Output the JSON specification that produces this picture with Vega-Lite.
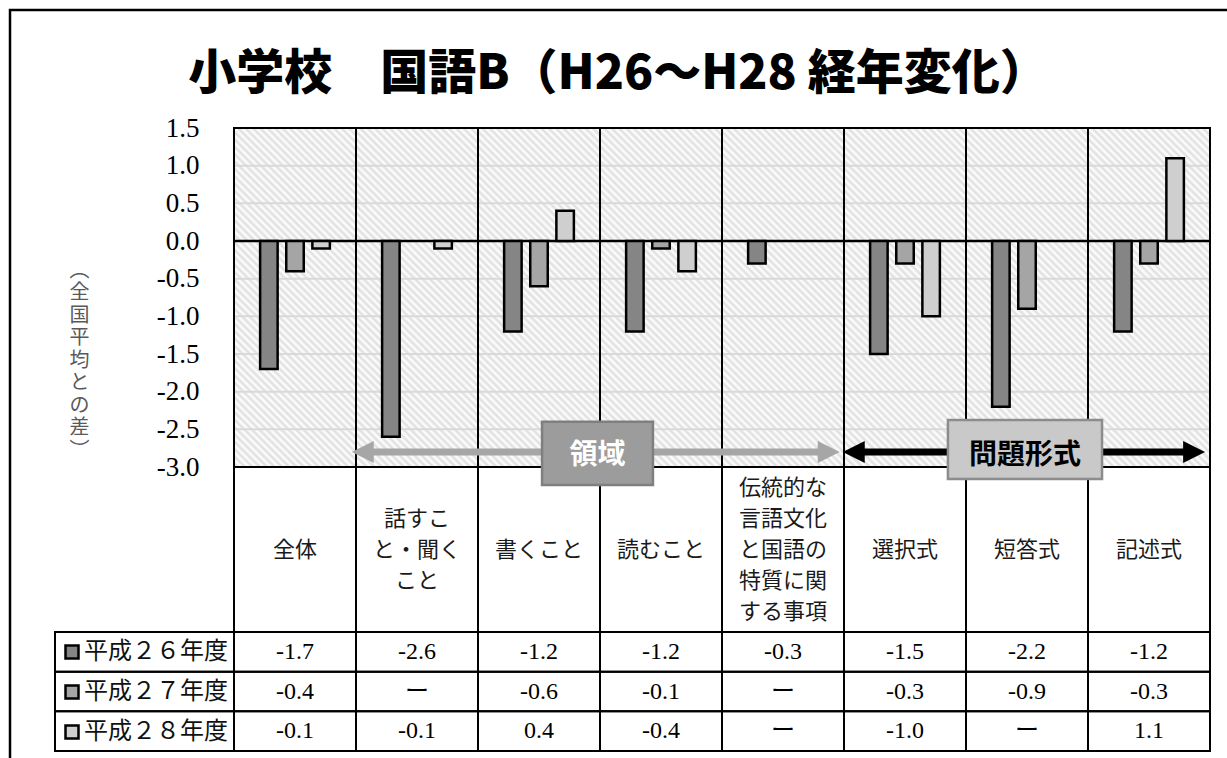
{
  "$schema": "https://vega.github.io/schema/vega-lite/v6.json",
  "width": 1220,
  "height": 752,
  "autosize": {"type": "none"},
  "padding": {"left": 10, "top": 10, "right": -3, "bottom": -4},
  "background": "#ffffff",
  "title": {
    "text": "小学校　国語B（H26～H28 経年変化）",
    "anchor": "middle",
    "frame": "group",
    "offset": -113,
    "baseline": "middle",
    "dx": -2,
    "font": "Noto Sans CJK JP",
    "fontSize": 48,
    "fontWeight": 900,
    "color": "#000000"
  },
  "datasets": {
    "cats": [
      {"cat": "全体", "label": "全体"},
      {"cat": "話すこと・聞くこと", "label": "話すこ\nと・聞く\nこと"},
      {"cat": "書くこと", "label": "書くこと"},
      {"cat": "読むこと", "label": "読むこと"},
      {"cat": "伝統的な言語文化と国語の特質に関する事項", "label": "伝統的な\n言語文化\nと国語の\n特質に関\nする事項"},
      {"cat": "選択式", "label": "選択式"},
      {"cat": "短答式", "label": "短答式"},
      {"cat": "記述式", "label": "記述式"}
    ],
    "scores": [
      {"cat": "全体", "year": "平成２６年度", "v": -1.7},
      {"cat": "全体", "year": "平成２７年度", "v": -0.4},
      {"cat": "全体", "year": "平成２８年度", "v": -0.1},
      {"cat": "話すこと・聞くこと", "year": "平成２６年度", "v": -2.6},
      {"cat": "話すこと・聞くこと", "year": "平成２７年度", "v": null},
      {"cat": "話すこと・聞くこと", "year": "平成２８年度", "v": -0.1},
      {"cat": "書くこと", "year": "平成２６年度", "v": -1.2},
      {"cat": "書くこと", "year": "平成２７年度", "v": -0.6},
      {"cat": "書くこと", "year": "平成２８年度", "v": 0.4},
      {"cat": "読むこと", "year": "平成２６年度", "v": -1.2},
      {"cat": "読むこと", "year": "平成２７年度", "v": -0.1},
      {"cat": "読むこと", "year": "平成２８年度", "v": -0.4},
      {"cat": "伝統的な言語文化と国語の特質に関する事項", "year": "平成２６年度", "v": -0.3},
      {"cat": "伝統的な言語文化と国語の特質に関する事項", "year": "平成２７年度", "v": null},
      {"cat": "伝統的な言語文化と国語の特質に関する事項", "year": "平成２８年度", "v": null},
      {"cat": "選択式", "year": "平成２６年度", "v": -1.5},
      {"cat": "選択式", "year": "平成２７年度", "v": -0.3},
      {"cat": "選択式", "year": "平成２８年度", "v": -1.0},
      {"cat": "短答式", "year": "平成２６年度", "v": -2.2},
      {"cat": "短答式", "year": "平成２７年度", "v": -0.9},
      {"cat": "短答式", "year": "平成２８年度", "v": null},
      {"cat": "記述式", "year": "平成２６年度", "v": -1.2},
      {"cat": "記述式", "year": "平成２７年度", "v": -0.3},
      {"cat": "記述式", "year": "平成２８年度", "v": 1.1}
    ],
    "years": [
      {"year": "平成２６年度"},
      {"year": "平成２７年度"},
      {"year": "平成２８年度"}
    ],
    "grid": [
      {"g": -2.5}, {"g": -2.0}, {"g": -1.5}, {"g": -1.0}, {"g": -0.5}, {"g": 0.5}, {"g": 1.0}
    ],
    "baseline": [{"g": 0}],
    "notes": [
      {"label": "領域", "from": 0.965, "to": 4.965, "y": -2.8, "mid": 2.98, "boxL": 2.525, "boxR": 3.434, "boxT": -2.4, "boxB": -3.24},
      {"label": "問題形式", "from": 4.99, "to": 7.96, "y": -2.8, "mid": 6.484, "boxL": 5.852, "boxR": 7.115, "boxT": -2.376, "boxB": -3.159}
    ]
  },
  "layer": [
    {
      "data": {"name": "cats"},
      "mark": {
        "type": "rect",
        "strokeWidth": 0,
        "fill": {
          "gradient": "linear",
          "x1": 0, "y1": 1, "x2": 0.4333, "y2": -0.204,
          "stops": [
            {"offset": 0, "color": "#fff"}, {"offset": 0.008, "color": "#dedede"},
            {"offset": 0.016, "color": "#fff"}, {"offset": 0.024, "color": "#dedede"},
            {"offset": 0.032, "color": "#fff"}, {"offset": 0.04, "color": "#dedede"},
            {"offset": 0.048, "color": "#fff"}, {"offset": 0.056, "color": "#dedede"},
            {"offset": 0.064, "color": "#fff"}, {"offset": 0.072, "color": "#dedede"},
            {"offset": 0.08, "color": "#fff"}, {"offset": 0.088, "color": "#dedede"},
            {"offset": 0.096, "color": "#fff"}, {"offset": 0.104, "color": "#dedede"},
            {"offset": 0.112, "color": "#fff"}, {"offset": 0.12, "color": "#dedede"},
            {"offset": 0.128, "color": "#fff"}, {"offset": 0.136, "color": "#dedede"},
            {"offset": 0.144, "color": "#fff"}, {"offset": 0.152, "color": "#dedede"},
            {"offset": 0.16, "color": "#fff"}, {"offset": 0.168, "color": "#dedede"},
            {"offset": 0.176, "color": "#fff"}, {"offset": 0.184, "color": "#dedede"},
            {"offset": 0.192, "color": "#fff"}, {"offset": 0.2, "color": "#dedede"},
            {"offset": 0.208, "color": "#fff"}, {"offset": 0.216, "color": "#dedede"},
            {"offset": 0.224, "color": "#fff"}, {"offset": 0.232, "color": "#dedede"},
            {"offset": 0.24, "color": "#fff"}, {"offset": 0.248, "color": "#dedede"},
            {"offset": 0.256, "color": "#fff"}, {"offset": 0.264, "color": "#dedede"},
            {"offset": 0.272, "color": "#fff"}, {"offset": 0.28, "color": "#dedede"},
            {"offset": 0.288, "color": "#fff"}, {"offset": 0.296, "color": "#dedede"},
            {"offset": 0.304, "color": "#fff"}, {"offset": 0.312, "color": "#dedede"},
            {"offset": 0.32, "color": "#fff"}, {"offset": 0.328, "color": "#dedede"},
            {"offset": 0.336, "color": "#fff"}, {"offset": 0.344, "color": "#dedede"},
            {"offset": 0.352, "color": "#fff"}, {"offset": 0.36, "color": "#dedede"},
            {"offset": 0.368, "color": "#fff"}, {"offset": 0.376, "color": "#dedede"},
            {"offset": 0.384, "color": "#fff"}, {"offset": 0.392, "color": "#dedede"},
            {"offset": 0.4, "color": "#fff"}, {"offset": 0.408, "color": "#dedede"},
            {"offset": 0.416, "color": "#fff"}, {"offset": 0.424, "color": "#dedede"},
            {"offset": 0.432, "color": "#fff"}, {"offset": 0.44, "color": "#dedede"},
            {"offset": 0.448, "color": "#fff"}, {"offset": 0.456, "color": "#dedede"},
            {"offset": 0.464, "color": "#fff"}, {"offset": 0.472, "color": "#dedede"},
            {"offset": 0.48, "color": "#fff"}, {"offset": 0.488, "color": "#dedede"},
            {"offset": 0.496, "color": "#fff"}, {"offset": 0.504, "color": "#dedede"},
            {"offset": 0.512, "color": "#fff"}, {"offset": 0.52, "color": "#dedede"},
            {"offset": 0.528, "color": "#fff"}, {"offset": 0.536, "color": "#dedede"},
            {"offset": 0.544, "color": "#fff"}, {"offset": 0.552, "color": "#dedede"},
            {"offset": 0.56, "color": "#fff"}, {"offset": 0.568, "color": "#dedede"},
            {"offset": 0.576, "color": "#fff"}, {"offset": 0.584, "color": "#dedede"},
            {"offset": 0.592, "color": "#fff"}, {"offset": 0.6, "color": "#dedede"},
            {"offset": 0.608, "color": "#fff"}, {"offset": 0.616, "color": "#dedede"},
            {"offset": 0.624, "color": "#fff"}, {"offset": 0.632, "color": "#dedede"},
            {"offset": 0.64, "color": "#fff"}, {"offset": 0.648, "color": "#dedede"},
            {"offset": 0.656, "color": "#fff"}, {"offset": 0.664, "color": "#dedede"},
            {"offset": 0.672, "color": "#fff"}, {"offset": 0.68, "color": "#dedede"},
            {"offset": 0.688, "color": "#fff"}, {"offset": 0.696, "color": "#dedede"},
            {"offset": 0.704, "color": "#fff"}, {"offset": 0.712, "color": "#dedede"},
            {"offset": 0.72, "color": "#fff"}, {"offset": 0.728, "color": "#dedede"},
            {"offset": 0.736, "color": "#fff"}, {"offset": 0.744, "color": "#dedede"},
            {"offset": 0.752, "color": "#fff"}, {"offset": 0.76, "color": "#dedede"},
            {"offset": 0.768, "color": "#fff"}, {"offset": 0.776, "color": "#dedede"},
            {"offset": 0.784, "color": "#fff"}, {"offset": 0.792, "color": "#dedede"},
            {"offset": 0.8, "color": "#fff"}, {"offset": 0.808, "color": "#dedede"},
            {"offset": 0.816, "color": "#fff"}, {"offset": 0.824, "color": "#dedede"},
            {"offset": 0.832, "color": "#fff"}, {"offset": 0.84, "color": "#dedede"},
            {"offset": 0.848, "color": "#fff"}, {"offset": 0.856, "color": "#dedede"},
            {"offset": 0.864, "color": "#fff"}, {"offset": 0.872, "color": "#dedede"},
            {"offset": 0.88, "color": "#fff"}, {"offset": 0.888, "color": "#dedede"},
            {"offset": 0.896, "color": "#fff"}, {"offset": 0.904, "color": "#dedede"},
            {"offset": 0.912, "color": "#fff"}, {"offset": 0.92, "color": "#dedede"},
            {"offset": 0.928, "color": "#fff"}, {"offset": 0.936, "color": "#dedede"},
            {"offset": 0.944, "color": "#fff"}, {"offset": 0.952, "color": "#dedede"},
            {"offset": 0.96, "color": "#fff"}, {"offset": 0.968, "color": "#dedede"},
            {"offset": 0.976, "color": "#fff"}, {"offset": 0.984, "color": "#dedede"},
            {"offset": 0.992, "color": "#fff"}, {"offset": 1, "color": "#dedede"}
          ]
        }
      },
      "encoding": {
        "x": {"field": "cat", "type": "nominal", "axis": null,
              "scale": {"type": "band", "domain": ["全体", "話すこと・聞くこと", "書くこと", "読むこと", "伝統的な言語文化と国語の特質に関する事項", "選択式", "短答式", "記述式"], "range": [224, 1200], "paddingInner": 0, "paddingOuter": 0}},
        "y": {"datum": 1.5, "type": "quantitative", "axis": null,
              "scale": {"domain": [-3, 1.5], "range": [457, 118], "nice": false, "zero": false}},
        "y2": {"datum": -3}
      }
    },
    {
      "data": {"name": "grid"},
      "mark": {"type": "rule", "color": "#d9d9d9", "strokeWidth": 2},
      "encoding": {
        "x": {"datum": 0, "type": "quantitative", "axis": null,
              "scale": {"domain": [0, 8], "range": [224, 1200], "nice": false, "zero": false}},
        "x2": {"datum": 8},
        "y": {"field": "g", "type": "quantitative",
              "scale": {"domain": [-3, 1.5], "range": [457, 118], "nice": false, "zero": false},
              "axis": {
                "orient": "left",
                "values": [-3, -2.5, -2, -1.5, -1, -0.5, 0, 0.5, 1, 1.5],
                "format": ".1f",
                "offset": -200,
                "domain": false,
                "ticks": false,
                "tickSize": 0,
                "grid": false,
                "labelPadding": 11,
                "labelFont": "Liberation Serif",
                "labelFontSize": 27,
                "labelColor": "#000000",
                "labelAlign": "right",
                "labelBaseline": "middle",
                "labelOverlap": false,
                "labelFlush": false,
                "title": ["︵", "全", "国", "平", "均", "と", "の", "差", "︶"],
                "titleAngle": 0,
                "titleX": -131,
                "titleY": 250,
                "titleAlign": "center",
                "titleBaseline": "top",
                "titleFont": "Noto Sans CJK JP",
                "titleFontSize": 20,
                "titleFontWeight": "normal",
                "titleColor": "#595959",
                "titleLineHeight": 22.5
              }}
      }
    },
    {
      "data": {"name": "cats"},
      "mark": {"type": "rect", "filled": false, "color": "#000000", "strokeWidth": 2},
      "encoding": {
        "x": {"field": "cat", "type": "nominal", "axis": null,
              "scale": {"type": "band", "domain": ["全体", "話すこと・聞くこと", "書くこと", "読むこと", "伝統的な言語文化と国語の特質に関する事項", "選択式", "短答式", "記述式"], "range": [224, 1200], "paddingInner": 0, "paddingOuter": 0}},
        "y": {"datum": 1.5, "type": "quantitative", "axis": null,
              "scale": {"domain": [-3, 1.5], "range": [457, 118], "nice": false, "zero": false}},
        "y2": {"datum": -3}
      }
    },
    {
      "data": {"name": "cats"},
      "mark": {"type": "rect", "filled": false, "color": "#000000", "strokeWidth": 2},
      "encoding": {
        "x": {"field": "cat", "type": "nominal", "axis": null,
              "scale": {"type": "band", "domain": ["全体", "話すこと・聞くこと", "書くこと", "読むこと", "伝統的な言語文化と国語の特質に関する事項", "選択式", "短答式", "記述式"], "range": [224, 1200], "paddingInner": 0, "paddingOuter": 0}},
        "y": {"datum": "区分", "type": "nominal", "axis": null,
              "scale": {"type": "band", "domain": ["区分"], "range": [457, 622], "paddingInner": 0, "paddingOuter": 0}}
      }
    },
    {
      "data": {"name": "cats"},
      "transform": [{"filter": "length(split(datum.label, '\\n')) === 1"}],
      "mark": {"type": "text", "font": "Noto Sans CJK JP", "fontSize": 22, "lineHeight": 31, "lineBreak": "\n", "color": "#1a1a1a", "align": "center", "baseline": "middle"},
      "encoding": {
        "x": {"field": "cat", "type": "nominal", "axis": null,
              "scale": {"type": "band", "domain": ["全体", "話すこと・聞くこと", "書くこと", "読むこと", "伝統的な言語文化と国語の特質に関する事項", "選択式", "短答式", "記述式"], "range": [224, 1200], "paddingInner": 0, "paddingOuter": 0}},
        "y": {"datum": "区分", "type": "nominal", "axis": null,
              "scale": {"type": "band", "domain": ["区分"], "range": [457, 622], "paddingInner": 0, "paddingOuter": 0}},
        "text": {"field": "label"}
      }
    },
    {
      "data": {"name": "cats"},
      "transform": [{"filter": "length(split(datum.label, '\\n')) === 3"}],
      "mark": {"type": "text", "font": "Noto Sans CJK JP", "fontSize": 22, "lineHeight": 31, "lineBreak": "\n", "color": "#1a1a1a", "align": "center", "baseline": "middle", "dy": -31},
      "encoding": {
        "x": {"field": "cat", "type": "nominal", "axis": null,
              "scale": {"type": "band", "domain": ["全体", "話すこと・聞くこと", "書くこと", "読むこと", "伝統的な言語文化と国語の特質に関する事項", "選択式", "短答式", "記述式"], "range": [224, 1200], "paddingInner": 0, "paddingOuter": 0}},
        "y": {"datum": "区分", "type": "nominal", "axis": null,
              "scale": {"type": "band", "domain": ["区分"], "range": [457, 622], "paddingInner": 0, "paddingOuter": 0}},
        "text": {"field": "label"}
      }
    },
    {
      "data": {"name": "cats"},
      "transform": [{"filter": "length(split(datum.label, '\\n')) === 5"}],
      "mark": {"type": "text", "font": "Noto Sans CJK JP", "fontSize": 22, "lineHeight": 31, "lineBreak": "\n", "color": "#1a1a1a", "align": "center", "baseline": "middle", "dy": -62},
      "encoding": {
        "x": {"field": "cat", "type": "nominal", "axis": null,
              "scale": {"type": "band", "domain": ["全体", "話すこと・聞くこと", "書くこと", "読むこと", "伝統的な言語文化と国語の特質に関する事項", "選択式", "短答式", "記述式"], "range": [224, 1200], "paddingInner": 0, "paddingOuter": 0}},
        "y": {"datum": "区分", "type": "nominal", "axis": null,
              "scale": {"type": "band", "domain": ["区分"], "range": [457, 622], "paddingInner": 0, "paddingOuter": 0}},
        "text": {"field": "label"}
      }
    },
    {
      "data": {"name": "baseline"},
      "mark": {"type": "rule", "color": "#000000", "strokeWidth": 2.5},
      "encoding": {
        "x": {"datum": 0, "type": "quantitative", "axis": null,
              "scale": {"domain": [0, 8], "range": [224, 1200], "nice": false, "zero": false}},
        "x2": {"datum": 8},
        "y": {"field": "g", "type": "quantitative", "axis": null,
              "scale": {"domain": [-3, 1.5], "range": [457, 118], "nice": false, "zero": false}}
      }
    },
    {
      "data": {"name": "scores"},
      "mark": {"type": "bar", "stroke": "#000000", "strokeWidth": 2.5},
      "encoding": {
        "x": {"field": "cat", "type": "nominal", "axis": null,
              "scale": {"type": "band", "domain": ["全体", "話すこと・聞くこと", "書くこと", "読むこと", "伝統的な言語文化と国語の特質に関する事項", "選択式", "短答式", "記述式"], "range": [224, 1200], "paddingInner": 0, "paddingOuter": 0}},
        "xOffset": {"field": "year", "type": "nominal",
                    "scale": {"domain": ["平成２６年度", "平成２７年度", "平成２８年度"], "paddingInner": 0.33, "paddingOuter": 1.0}},
        "y": {"field": "v", "type": "quantitative", "axis": null, "stack": null,
              "scale": {"domain": [-3, 1.5], "range": [457, 118], "nice": false, "zero": false}},
        "color": {"field": "year", "type": "nominal",
                  "scale": {"domain": ["平成２６年度", "平成２７年度", "平成２８年度"], "range": ["#858585", "#a5a5a5", "#cfcfcf"]},
                  "legend": {
                    "title": null,
                    "orient": "none",
                    "legendX": 50,
                    "legendY": 630,
                    "direction": "vertical",
                    "symbolType": "square",
                    "symbolSize": 169,
                    "symbolStrokeColor": "#000000",
                    "symbolStrokeWidth": 2.5,
                    "symbolOpacity": 1,
                    "labelFont": "Noto Sans CJK JP",
                    "labelFontSize": 24,
                    "labelColor": "#111111",
                    "labelOffset": 0,
                    "labelLimit": 300,
                    "rowPadding": 16,
                    "padding": 0,
                    "offset": 0
                  }}
      }
    },
    {
      "data": {"name": "scores"},
      "mark": {"type": "rect", "filled": false, "color": "#000000", "strokeWidth": 2},
      "encoding": {
        "x": {"field": "cat", "type": "nominal", "axis": null,
              "scale": {"type": "band", "domain": ["全体", "話すこと・聞くこと", "書くこと", "読むこと", "伝統的な言語文化と国語の特質に関する事項", "選択式", "短答式", "記述式"], "range": [224, 1200], "paddingInner": 0, "paddingOuter": 0}},
        "y": {"field": "year", "type": "nominal", "axis": null,
              "scale": {"type": "band", "domain": ["平成２６年度", "平成２７年度", "平成２８年度"], "range": [622, 741], "paddingInner": 0, "paddingOuter": 0}}
      }
    },
    {
      "data": {"name": "scores"},
      "mark": {"type": "text", "font": "Liberation Serif, Noto Sans CJK JP", "fontSize": 24, "color": "#000000", "align": "center", "baseline": "middle"},
      "encoding": {
        "x": {"field": "cat", "type": "nominal", "axis": null,
              "scale": {"type": "band", "domain": ["全体", "話すこと・聞くこと", "書くこと", "読むこと", "伝統的な言語文化と国語の特質に関する事項", "選択式", "短答式", "記述式"], "range": [224, 1200], "paddingInner": 0, "paddingOuter": 0}},
        "y": {"field": "year", "type": "nominal", "axis": null,
              "scale": {"type": "band", "domain": ["平成２６年度", "平成２７年度", "平成２８年度"], "range": [622, 741], "paddingInner": 0, "paddingOuter": 0}},
        "text": {"field": "v", "type": "quantitative", "format": ".1f",
                 "condition": {"test": "datum.v === null", "value": "ー"}}
      }
    },
    {
      "data": {"name": "years"},
      "mark": {"type": "rect", "filled": false, "color": "#000000", "strokeWidth": 2},
      "encoding": {
        "x": {"datum": "凡例", "type": "nominal", "axis": null,
              "scale": {"type": "band", "domain": ["凡例"], "range": [45, 224], "paddingInner": 0, "paddingOuter": 0}},
        "y": {"field": "year", "type": "nominal", "axis": null,
              "scale": {"type": "band", "domain": ["平成２６年度", "平成２７年度", "平成２８年度"], "range": [622, 741], "paddingInner": 0, "paddingOuter": 0}}
      }
    },
    {
      "data": {"name": "notes"},
      "mark": {"type": "rule", "strokeWidth": 7, "strokeCap": "butt", "xOffset": 14, "x2Offset": -14},
      "encoding": {
        "x": {"field": "from", "type": "quantitative", "axis": null,
              "scale": {"domain": [0, 8], "range": [224, 1200], "nice": false, "zero": false}},
        "x2": {"field": "to"},
        "y": {"field": "y", "type": "quantitative", "axis": null,
              "scale": {"domain": [-3, 1.5], "range": [457, 118], "nice": false, "zero": false}},
        "color": {"condition": {"test": "datum.label === '領域'", "value": "#a6a6a6"}, "value": "#000000"}
      }
    },
    {
      "data": {"name": "notes"},
      "mark": {"type": "point", "shape": "M0,0L2,-1L2,1Z", "size": 484, "filled": true, "opacity": 1, "strokeWidth": 0},
      "encoding": {
        "x": {"field": "from", "type": "quantitative", "axis": null,
              "scale": {"domain": [0, 8], "range": [224, 1200], "nice": false, "zero": false}},
        "y": {"field": "y", "type": "quantitative", "axis": null,
              "scale": {"domain": [-3, 1.5], "range": [457, 118], "nice": false, "zero": false}},
        "color": {"condition": {"test": "datum.label === '領域'", "value": "#a6a6a6"}, "value": "#000000"}
      }
    },
    {
      "data": {"name": "notes"},
      "mark": {"type": "point", "shape": "M0,0L-2,-1L-2,1Z", "size": 484, "filled": true, "opacity": 1, "strokeWidth": 0},
      "encoding": {
        "x": {"field": "to", "type": "quantitative", "axis": null,
              "scale": {"domain": [0, 8], "range": [224, 1200], "nice": false, "zero": false}},
        "y": {"field": "y", "type": "quantitative", "axis": null,
              "scale": {"domain": [-3, 1.5], "range": [457, 118], "nice": false, "zero": false}},
        "color": {"condition": {"test": "datum.label === '領域'", "value": "#a6a6a6"}, "value": "#000000"}
      }
    },
    {
      "data": {"name": "notes"},
      "mark": {"type": "rect", "strokeWidth": 2.5},
      "encoding": {
        "x": {"field": "boxL", "type": "quantitative", "axis": null,
              "scale": {"domain": [0, 8], "range": [224, 1200], "nice": false, "zero": false}},
        "x2": {"field": "boxR"},
        "y": {"field": "boxT", "type": "quantitative", "axis": null,
              "scale": {"domain": [-3, 1.5], "range": [457, 118], "nice": false, "zero": false}},
        "y2": {"field": "boxB"},
        "fill": {"condition": {"test": "datum.label === '領域'", "value": "#9c9c9c"}, "value": "#c9c9c9"},
        "stroke": {"condition": {"test": "datum.label === '領域'", "value": "#7f7f7f"}, "value": "#8c8c8c"}
      }
    },
    {
      "data": {"name": "notes"},
      "mark": {"type": "text", "font": "Noto Sans CJK JP", "fontSize": 28, "fontWeight": "bold", "align": "center", "baseline": "middle", "dy": 4},
      "encoding": {
        "x": {"field": "mid", "type": "quantitative", "axis": null,
              "scale": {"domain": [0, 8], "range": [224, 1200], "nice": false, "zero": false}},
        "y": {"field": "y", "type": "quantitative", "axis": null,
              "scale": {"domain": [-3, 1.5], "range": [457, 118], "nice": false, "zero": false}},
        "text": {"field": "label"},
        "color": {"condition": {"test": "datum.label === '領域'", "value": "#ffffff"}, "value": "#000000"}
      }
    }
  ],
  "resolve": {
    "scale": {"x": "independent", "y": "independent", "color": "independent", "fill": "independent", "stroke": "independent"}
  },
  "config": {
    "view": {"stroke": "#000000", "strokeWidth": 2.5},
    "font": "Noto Sans CJK JP",
    "locale": {
      "number": {"decimal": ".", "thousands": ",", "grouping": [3], "currency": ["", ""], "minus": "-"}
    }
  }
}
